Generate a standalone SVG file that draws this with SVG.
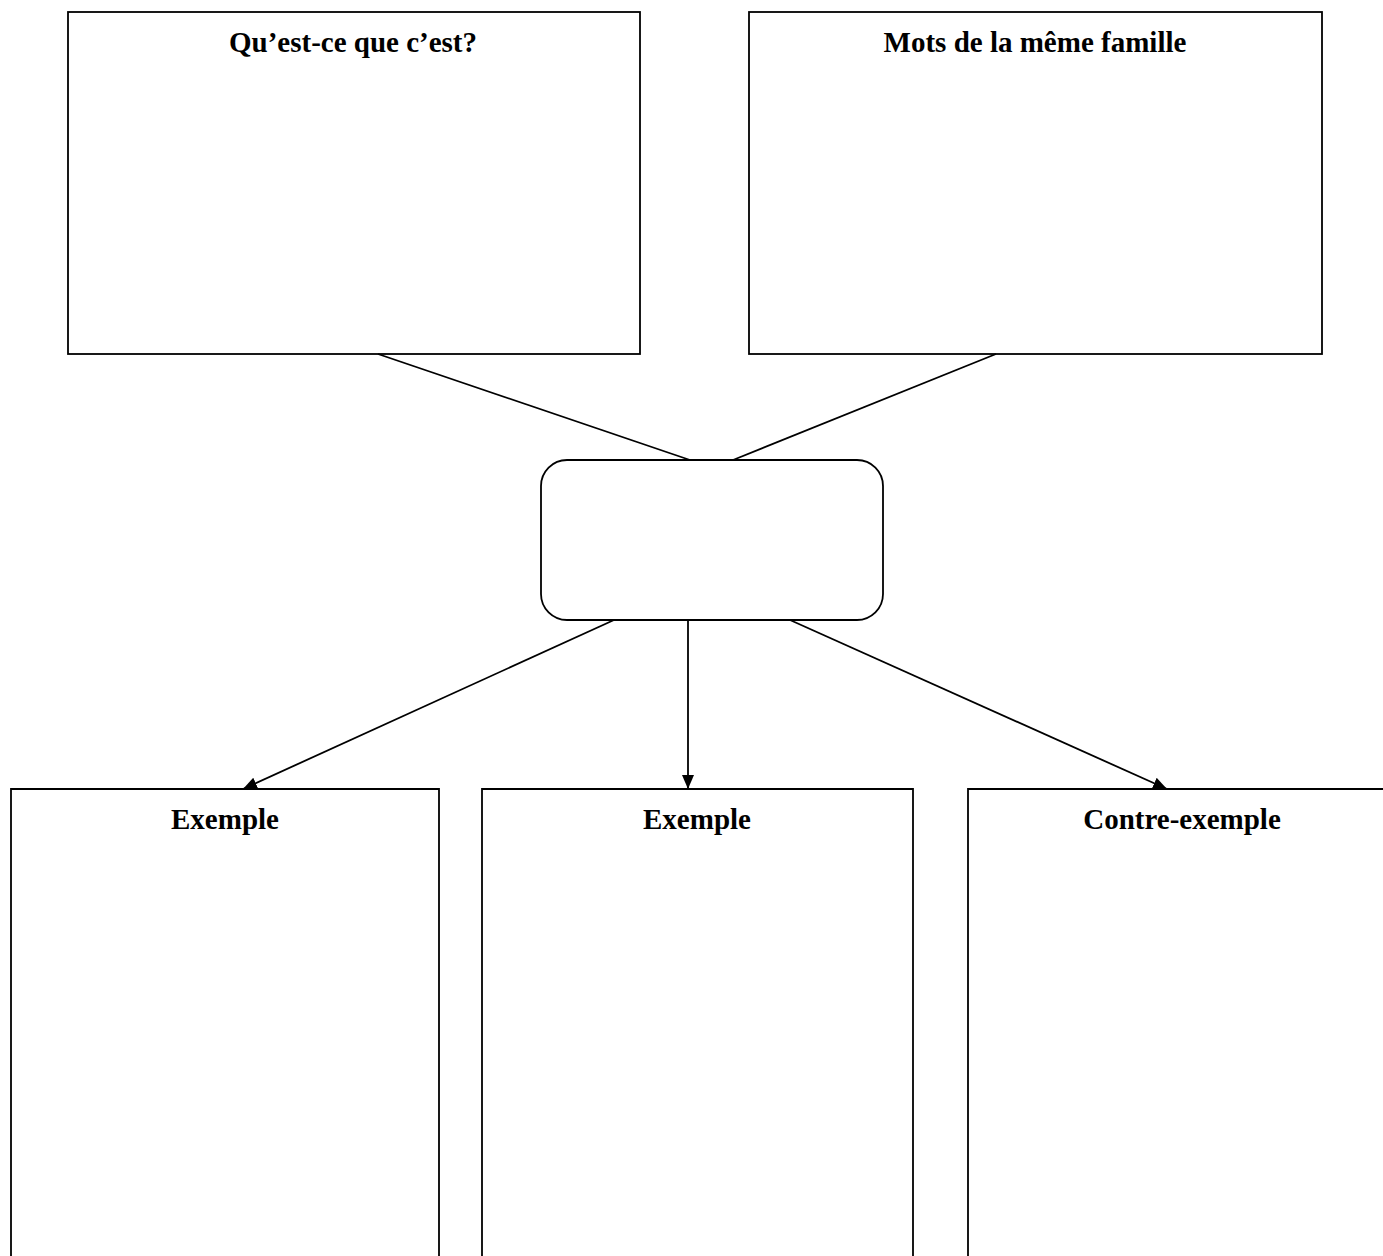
<svg xmlns="http://www.w3.org/2000/svg" width="1383" height="1256" viewBox="0 0 1383 1256">
<style>
.box{fill:#fff;stroke:#000;stroke-width:1.8}
.lbl{font-family:"Liberation Serif","Times New Roman",serif;font-weight:bold;font-size:29px;fill:#000;text-anchor:middle}
.con{stroke:#000;stroke-width:1.8;fill:none}
</style>
<defs>
<marker id="arr" viewBox="0 0 14 12" refX="14" refY="6" markerWidth="14" markerHeight="12" markerUnits="userSpaceOnUse" orient="auto">
<path d="M0,0 L14,6 L0,12 Z" fill="#000"/>
</marker>
</defs>
<rect width="1383" height="1256" fill="#fff"/>
<g id="node-quest">
<rect class="box" x="68" y="12" width="572" height="342"/>
<text class="lbl" x="353" y="52">Qu’est-ce que c’est?</text>
</g>
<g id="node-mots">
<rect class="box" x="749" y="12" width="573" height="342"/>
<text class="lbl" x="1035" y="52">Mots de la même famille</text>
</g>
<g id="node-center">
<rect class="box" x="541" y="460" width="342" height="160" rx="26" ry="26"/>
</g>
<g id="node-ex1">
<path class="box" d="M11,1260 L11,789 L439,789 L439,1260"/>
<text class="lbl" x="225" y="829">Exemple</text>
</g>
<g id="node-ex2">
<path class="box" d="M482,1260 L482,789 L913,789 L913,1260"/>
<text class="lbl" x="697" y="829">Exemple</text>
</g>
<g id="node-contre">
<path class="box" d="M968,1260 L968,789 L1390,789"/>
<text class="lbl" x="1182" y="829">Contre-exemple</text>
</g>
<g id="connectors">
<line class="con" x1="378" y1="354" x2="690" y2="460"/>
<line class="con" x1="996" y1="354" x2="733" y2="460"/>
<line class="con" x1="614" y1="620" x2="243" y2="789" marker-end="url(#arr)"/>
<line class="con" x1="688" y1="620" x2="688" y2="789" marker-end="url(#arr)"/>
<line class="con" x1="790" y1="620" x2="1167" y2="789" marker-end="url(#arr)"/>
</g>
</svg>
